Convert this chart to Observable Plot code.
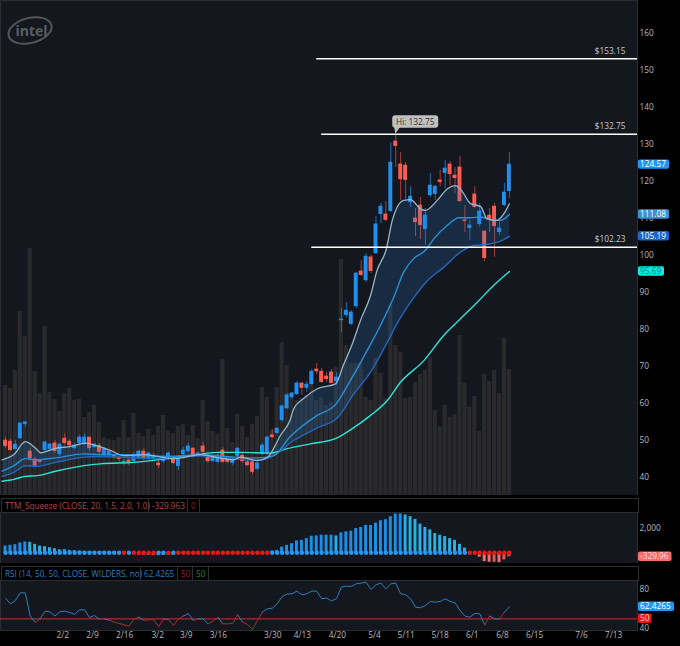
<!DOCTYPE html>
<html><head><meta charset="utf-8">
<script src="https://cdn.jsdelivr.net/npm/d3@7"></script>
<script src="https://cdn.jsdelivr.net/npm/@observablehq/plot@0.6"></script>
<style>
html,body{margin:0;padding:0;background:#000;width:680px;height:646px;overflow:hidden}
#root{position:relative;width:680px;height:646px;font-family:"Open Sans",sans-serif}
.layer{position:absolute;left:0}
.layer svg{display:block;background:transparent!important}
.hdr{position:absolute;left:1px;width:636px;height:13px;border:1px solid #2e2f33;box-sizing:content-box;background:#000;font-size:8.2px;line-height:13px;white-space:nowrap}
.hdr span{position:absolute;top:0;height:13px;padding-left:3px;border-right:1px solid #2e2f33;box-sizing:border-box}
</style></head><body><div id="root"></div>
<script>
const opens=[50.0,49.7,47.6,50.5,54.3,47.0,44.9,44.6,47.3,47.6,49.2,46.2,50.5,49.7,47.8,49.2,49.2,50.8,48.1,48.6,45.9,45.9,45.9,45.4,43.8,44.6,44.3,45.1,47.0,44.9,44.9,43.8,44.3,45.4,45.1,43.0,46.2,47.0,47.8,45.9,48.4,45.4,44.3,44.1,47.3,45.1,43.8,45.7,45.9,44.1,44.1,42.2,46.5,46.5,51.4,51.9,55.4,58.6,61.6,62.4,65.4,64.1,65.1,69.2,68.6,67.3,68.4,65.9,82.4,83.8,81.4,86.2,95.7,93.2,99.5,100.5,111.1,111.1,111.9,130.8,124.6,124.3,114.3,110.0,113.5,107.0,116.2,116.5,120.3,122.2,124.6,121.6,123.8,109.5,107.3,116.5,108.4,106.5,110.8,113.2,106.2,113.5,117.3];
const highs=[50.8,50.3,50.0,54.6,55.1,47.8,45.4,44.9,49.7,49.2,50.0,49.2,51.9,50.3,49.2,51.4,51.9,50.8,49.2,49.2,48.1,47.6,46.2,45.7,44.9,44.9,46.8,47.3,47.8,46.8,46.5,44.9,45.9,46.8,45.4,45.9,48.1,49.2,48.1,47.0,49.5,46.2,45.9,46.5,48.1,45.7,44.9,48.1,46.5,44.6,44.6,44.1,49.2,51.1,53.0,53.5,59.7,62.7,63.0,65.9,65.7,65.9,69.2,70.8,69.5,68.4,69.2,68.4,85.7,87.3,85.1,95.4,98.6,100.5,100.0,110.5,114.1,114.6,130.5,132.75,127.8,125.1,118.6,112.7,115.7,112.7,122.2,118.9,123.0,125.7,125.4,123.8,126.8,113.5,109.5,118.6,114.1,106.5,112.7,114.1,109.5,119.5,127.8];
const lows=[47.8,47.0,47.3,50.3,53.5,44.6,42.7,43.8,46.8,47.0,46.5,45.7,48.6,47.8,47.6,48.4,48.6,47.0,47.8,46.2,45.4,45.4,44.9,44.1,43.2,43.2,44.1,44.9,44.6,44.6,44.6,42.4,43.8,44.6,43.5,41.9,45.4,46.5,45.4,45.4,46.2,43.8,44.1,43.8,43.8,43.8,43.2,45.4,43.8,43.0,40.8,41.9,45.9,45.9,50.5,51.6,54.9,58.4,61.1,62.2,62.2,63.0,64.9,67.8,65.4,65.7,65.4,64.9,79.2,83.2,81.1,85.7,94.3,92.7,95.1,100.3,108.6,109.2,111.6,123.8,114.9,115.1,113.0,105.1,104.3,102.7,115.7,114.9,118.6,118.1,118.9,116.8,114.3,106.2,104.1,112.7,107.6,98.4,106.2,99.5,105.4,113.2,115.4];
const closes=[48.4,47.3,48.9,54.6,54.9,45.1,43.0,44.1,49.5,48.9,47.0,48.9,49.2,48.6,48.6,50.8,50.8,47.8,48.9,46.8,47.8,47.0,45.4,44.9,44.3,43.8,45.9,47.0,45.1,46.5,45.9,43.2,45.4,46.5,43.8,45.4,47.3,48.4,45.4,46.5,46.8,44.3,45.7,45.9,44.1,44.1,44.6,47.8,44.3,43.2,41.4,43.8,48.6,50.8,50.8,53.2,59.2,62.2,62.7,65.4,64.1,65.1,68.6,68.6,65.7,66.5,65.4,67.0,82.7,85.1,84.6,95.1,94.6,99.7,95.7,108.4,113.2,109.5,125.1,129.5,120.5,120.3,115.9,108.9,108.1,110.8,118.9,118.6,119.7,123.5,121.9,120.8,114.6,109.2,108.1,113.0,111.9,99.2,109.5,107.8,107.3,117.0,124.57];
const volumes=[110,107,125,184,159,247,124,102,169,103,96,84,102,107,95,96,78,83,90,73,58,56,55,58,75,58,82,62,59,66,60,69,80,64,62,69,71,60,70,57,95,74,64,61,136,67,53,81,69,58,71,79,108,98,65,108,153,130,98,95,97,100,110,95,98,90,93,128,236,150,132,132,132,98,95,137,122,97,190,150,143,97,98,113,121,125,138,85,68,90,78,81,160,112,88,99,64,121,114,125,102,157,126];
const fastX=[-0.7,1.7,4,6.1,7.1,10.1,13.2,16.2,18.6,21.3,24,28,34.1,39.5,42.9,46.2,47.6,51,53,55.7,57.6,58.35,60.4,63.1,66.8,68.5,70.2,71.85,73.9,75.2,77.1,78.3,79.3,80.6,82,84,85,87.4,89.4,91.1,92.4,94.1,96.2,97.5,99.5,100.9,102];
const fastV=[44.8,46.2,49.7,47.9,46.7,47.9,48.4,49.3,48.5,47.3,45.9,46.2,45.1,46.2,45.4,44.8,45.5,44.6,45.4,51.5,55.5,58.6,61.4,64.0,65.3,70.7,76.1,82.4,89.2,95.9,101.8,109.5,113.1,114.9,115.1,112.6,112.2,114.9,118,118.9,117.4,114.1,113.2,109.9,109.5,111.3,114];
const midX=[-0.7,1.7,4,6.1,10.1,15.9,19.2,24.6,32.7,39.5,46.2,51,54.3,57.6,63.1,66.8,69.8,73.2,75.9,78.6,80.6,82.6,85,86.7,89.4,91.8,94.1,96.2,98.9,100.2,102];
const midV=[41.7,43.2,45.1,44.8,45.3,46.4,46.2,46.2,45.7,46.2,45.5,45.3,45.9,51,56.8,59.7,66.2,74.3,81.1,88.7,95.5,99.1,101.4,104.5,108.1,110.2,110.2,110.4,109.5,109.5,111.08];
const slowX=[-0.7,1.7,4,6.1,10.1,15.9,19.2,26,32.7,39.5,46.2,51,54.3,58.35,63.1,67.3,70.5,73.9,77.3,79.6,82,85.4,88.7,92.1,94.8,97.5,100.2,102];
const slowV=[40.3,41.4,43.2,43,44.1,45.5,45.7,45.3,45.1,45.9,45.1,44.6,45.9,50,53.4,56.3,62.6,68.5,76.6,82.4,87.4,93.2,96.8,100.9,102.7,103,103.9,105.19];
const longX=[-0.7,1.7,4,6.4,10.1,15.9,19.2,26,32.7,37.5,42.9,47.6,53.6,57,61.7,66.8,70.2,73.9,77.3,80,84.7,88.7,92.1,95.8,98.8,102];
const longV=[39,39.5,40.3,40.5,41.7,43.2,43.7,44.1,45.1,45.9,46.8,46.8,46.6,47.8,49.1,50.5,53.2,56.8,60.8,65.8,71.6,78.4,82.9,87.8,91.9,95.69];
const levels=[153.15,132.75,102.23];
const levelStart=[63,64,62];
const squeeze=[556,612,667,806,890,862,695,556,500,417,334,250,278,195,167,139,120,110,110,100,90,80,70,60,-30,-120,-150,-180,-200,-210,-220,-230,-220,-200,-180,-60,-50,-40,-30,-30,-20,-20,-30,-30,-40,-40,-30,-20,-20,-30,-30,-20,-20,-10,139,195,473,612,751,973,1028,1167,1362,1390,1446,1446,1446,1390,1640,1724,1779,2002,2085,2252,2252,2446,2641,2724,2974,3197,3197,3114,2974,2752,2363,2085,1890,1585,1446,1334,1167,1028,695,389,-50,-60,-361,-723,-778,-778,-806,-584,-330];
const squeezeOn=[24,26,27,28,29,30,33,35,36,37,38,39,40,41,42,43,44,45,46,47,48,49,50,51,52,53,94,95,96,97,98,99,100,101,102];
const rsi=[71.4,65.5,69,76.9,76.9,52.8,46.6,50,57.9,57.2,52.8,57.2,57.9,56.6,54.5,59.3,59.3,51.4,53.4,49.7,50,48.6,46.6,45.2,43.8,42.4,49.7,51.7,48.6,49,49,41.7,50,49.3,43.1,49.7,52.8,55.5,48.3,50,50,44.8,47.6,51.4,44.8,44.8,45.2,54.1,46.6,44.1,39,48.3,56.9,60.3,61,65.5,73.1,75.5,75.9,78.6,74.8,75.9,78.6,78.6,70.7,71.4,68.6,70.7,82.8,83.8,83.4,86.2,86.9,87.9,80.3,85.2,86.9,81,86.2,86.9,75.9,74.8,70.7,62.1,61.4,63.8,67.9,67.2,67.9,70.7,67.9,66.6,58.6,52.8,51.7,55.5,55.2,43.8,52.8,50,49.7,56.9,62.4265];
const tickIdx=[11.6,17.6,24.1,30.8,36.6,43.1,54.1,60.1,67.2,74.7,81.1,88,94.5,100.6,107.1,116.6,123.1];
const tickLabels=["2/2","2/9","2/16","3/2","3/9","3/16","3/30","4/13","4/20","5/4","5/11","5/18","6/1","6/8","6/15","7/6","7/13"];

const W=680, XR=[-1.012,127.94], PANEL="#14171e", GRID="#2b2d33";
const xScale={domain:XR,range:[0,637]};
const idx=d3.range(closes.length);
const pts=(xs,vs)=>xs.map((x,k)=>({x,v:vs[k]}));
const fast=pts(fastX,fastV), mid=pts(midX,midV), slow=pts(slowX,slowV), long_=pts(longX,longV);
const bars=idx.map(i=>({i,o:opens[i],h:highs[i],l:lows[i],c:closes[i],vol:volumes[i],up:closes[i]>=opens[i]}));
const style={fontFamily:'"Open Sans",sans-serif',fontSize:"8.3px",color:"#b9b9b9",background:"transparent"};

function tags(list){
  return (index,scales)=>{
    const g=d3.create("svg:g");
    for(const t of list){
      const y=scales.y(t.value);
      g.append("rect").attr("x",638).attr("y",y-4.7).attr("width",t.w).attr("height",9.4).attr("rx",1.8).attr("fill",t.bg);
      g.append("text").attr("x",640).attr("y",y+3).attr("text-anchor","start").attr("fill",t.fg).attr("font-size","8.3px").text(t.text);
    }
    return g.node();
  };
}
function logo(){
  const g=d3.create("svg:g");
  g.append("ellipse").attr("cx",30).attr("cy",30.5).attr("rx",22).attr("ry",12.5).attr("transform","rotate(-14 30 30.5)").attr("fill","none").attr("stroke","#53565b").attr("stroke-width",2);
  g.append("text").attr("x",15.5).attr("y",36).attr("text-anchor","start").attr("fill","#5b5e63").attr("font-size","14px").attr("font-weight",700).attr("font-family",'"Open Sans",sans-serif').text("intel");
  return g.node();
}
function hiBubble(index,scales){
  const g=d3.create("svg:g"), x=scales.x(79), y=scales.y(132.75);
  g.append("path").attr("d",`M${x-1},${y-7} L${x},${y} L${x+5},${y-7} Z`).attr("fill","#bdbdbd");
  g.append("rect").attr("x",x-3).attr("y",y-18.5).attr("width",46).attr("height",12.5).attr("rx",3).attr("fill","#c0c0c0");
  g.append("text").attr("x",x+20).attr("y",y-9.3).attr("text-anchor","middle").attr("fill","#333").attr("font-size","8.3px").text("Hi: 132.75");
  return g.node();
}

const root=document.getElementById("root");
function place(node,top){const d=document.createElement("div");d.className="layer";d.style.top=top+"px";d.appendChild(node);root.appendChild(d);}

place(Plot.plot({width:W,height:495,marginLeft:0,marginRight:43,marginTop:0,marginBottom:0,style,
  x:{...xScale,axis:null},y:{domain:[0,495],range:[495,0],axis:null},
  marks:[Plot.frame({fill:PANEL,stroke:GRID}),
    Plot.rectY(bars,{x1:d=>d.i-0.42,x2:d=>d.i+0.42,y1:0,y2:"vol",fill:"#2a2a2c"})]}),0);

place(Plot.plot({width:W,height:495,marginLeft:0,marginRight:43,marginTop:0,marginBottom:0,style,
  x:{...xScale,axis:null},y:{domain:[35.14,168.92],range:[495,0],axis:null},
  marks:[
    logo,
    Plot.axisY({anchor:"right",ticks:d3.range(40,170,10),tickSize:0,tickPadding:2,label:null}),
    Plot.ruleX(bars,{x:"i",y1:"l",y2:"h",stroke:d=>d.up?"#1b6fb5":"#a8403e",strokeWidth:1}),
    Plot.rect(bars,{x1:d=>d.i-0.4,x2:d=>d.i+0.4,y1:d=>Math.min(d.o,d.c),y2:d=>Math.max(d.o,d.c)+0.1,fill:d=>d.up?"#1e90f0":"#fa5c52"}),
    Plot.line([...fast,...slow.slice().reverse()],{x:"x",y:"v",fill:"#2a7fcf",fillOpacity:0.2,stroke:"none"}),
    Plot.line(long_,{x:"x",y:"v",stroke:"#2be6d8",strokeWidth:1.4,curve:"monotone-x"}),
    Plot.line(slow,{x:"x",y:"v",stroke:"#2467bd",strokeWidth:1.4,curve:"monotone-x"}),
    Plot.line(mid,{x:"x",y:"v",stroke:"#2a8fd8",strokeWidth:1.4,curve:"monotone-x"}),
    Plot.line(fast,{x:"x",y:"v",stroke:"#96b6ca",strokeWidth:1.3,curve:"monotone-x"}),
    Plot.ruleY(levels,{x1:(d,i)=>levelStart[i],x2:XR[1],stroke:"#fff",strokeWidth:1.5}),
    Plot.text(levels,{x:125.5,y:d=>d,text:d=>"$"+d.toFixed(2),textAnchor:"end",dy:-8,fill:"#c9c9c9"}),
    hiBubble,
    tags([{value:124.57,text:"124.57",w:31,bg:"#2196f3",fg:"#fff"},
          {value:111.08,text:"111.08",w:31,bg:"#3a93d8",fg:"#fff"},
          {value:105.19,text:"105.19",w:31,bg:"#1d63c8",fg:"#fff"},
          {value:95.69,text:"95.69",w:26,bg:"#11e8e0",fg:"#0b7f7c"}])
  ]}),0);

function hdr(top,cells){
  const h=document.createElement("div");h.className="hdr";h.style.top=top+"px";
  let prev=0;
  for(const c of cells){const s=document.createElement("span");s.textContent=c.t;s.style.left=prev+"px";s.style.width=(c.e-prev)+"px";s.style.color=c.col;h.appendChild(s);prev=c.e;}
  root.appendChild(h);
}
hdr(498,[{t:"TTM_Squeeze (CLOSE, 20, 1.5, 2.0, 1.0)",e:147,col:"#b04a48"},{t:"-329.963",e:186,col:"#b04a48"},{t:"0",e:198,col:"#8a2020"}]);
hdr(566,[{t:"RSI (14, 50, 50, CLOSE, WILDERS, no)",e:139,col:"#2a7fc0"},{t:"62.4265",e:176,col:"#2a7fc0"},{t:"50",e:191,col:"#a02020"},{t:"50",e:207,col:"#1f8a1f"}]);

const sq=idx.map(i=>{const v=squeeze[i],p=i?squeeze[i-1]:v;
  return {i,v,col:v>=0?(v>=p?"#1a8fe8":"#29b0e6"):(v<p?"#f06e6e":"#e05858"),dot:squeezeOn.includes(i)?"#f01414":"#2a96ee"};});
place(Plot.plot({width:W,height:51,marginLeft:0,marginRight:43,marginTop:0,marginBottom:0,style,
  x:{...xScale,axis:null},y:{domain:[-880,3317],range:[51,0],axis:null},
  marks:[Plot.frame({fill:PANEL,stroke:GRID}),
    Plot.axisY({anchor:"right",ticks:[2000],tickSize:0,tickPadding:2,tickFormat:d3.format(","),label:null}),
    Plot.rect(sq,{x1:d=>d.i-0.3,x2:d=>d.i+0.3,y1:0,y2:"v",fill:"col"}),
    Plot.dot(sq,{x:"i",y:()=>0,r:2.2,fill:"dot",stroke:"none"}),
    tags([{value:-329.96,text:"-329.96",w:33.5,bg:"#f46d6d",fg:"#ffd9d9"}])
  ]}),512);

const rs=idx.map(i=>({i,v:rsi[i],col:rsi[i]>=50?"#2a7fc0":"#b02c2c"}));
place(Plot.plot({width:W,height:66,marginLeft:0,marginRight:43,marginTop:0,marginBottom:16,style,
  x:{...xScale,axis:null},y:{domain:[37.9,89.6],range:[50,0],axis:null},
  marks:[Plot.frame({fill:PANEL,stroke:GRID}),
    Plot.axisY({anchor:"right",ticks:[40,80],tickSize:0,tickPadding:2,label:null}),
    Plot.axisX({anchor:"bottom",ticks:tickIdx,tickFormat:d=>tickLabels[tickIdx.indexOf(d)],tickSize:0,tickPadding:2,label:null}),
    Plot.ruleY([50],{stroke:"#a82a2a",strokeWidth:1.3}),
    Plot.line(rs,{x:"i",y:"v",z:null,stroke:"col",strokeWidth:1}),
    tags([{value:62.4265,text:"62.4265",w:36,bg:"#2196f3",fg:"#fff"},{value:50,text:"50",w:13.5,bg:"#f01414",fg:"#ffd0d0"}])
  ]}),580);
</script></body></html>
